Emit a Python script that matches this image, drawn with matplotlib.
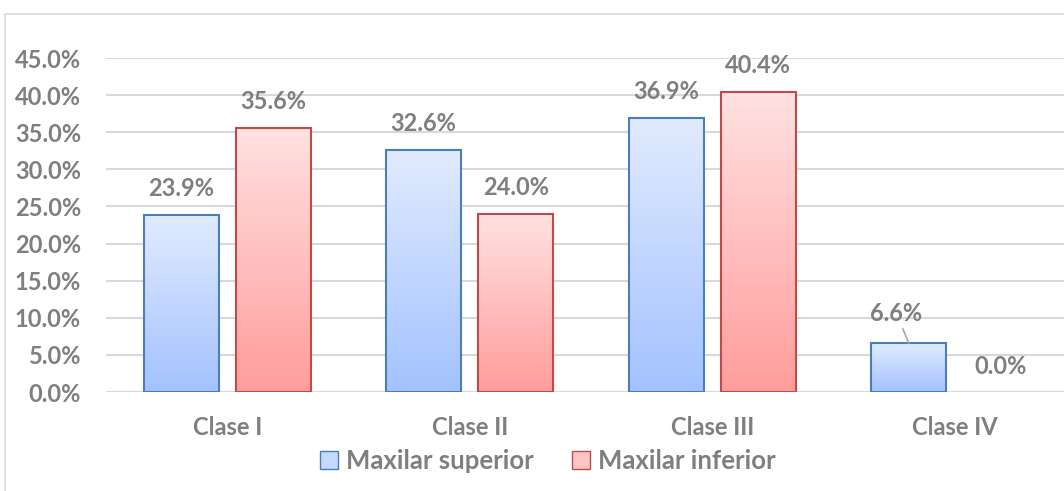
import numpy as np
import matplotlib
matplotlib.use("Agg")
import matplotlib.pyplot as plt
from matplotlib.patches import Patch, Rectangle
from matplotlib.colors import LinearSegmentedColormap
from matplotlib.ticker import FuncFormatter

categories = ["Clase I", "Clase II", "Clase III", "Clase IV"]
superior = [23.9, 32.6, 36.9, 6.6]
inferior = [35.6, 24.0, 40.4, 0.0]
series_names = ["Maxilar superior", "Maxilar inferior"]

plt.rcParams['font.family'] = ['Lato', 'DejaVu Sans']
grey = "#7f7f7f"
fs = 17

fig = plt.figure(figsize=(10.64, 4.91), dpi=100)
# chart border (cropped at right/bottom like the original)
fig.patches.append(Rectangle((4.5 / 1064, -0.1), 1.2, 1.1 - 13.5 / 491, transform=fig.transFigure,
                             fill=False, edgecolor="#d9d9d9", linewidth=1.2))

ax = fig.add_axes([106 / 1064, 1 - 392 / 491, 970 / 1064, (392 - 58) / 491])

blue_cmap = LinearSegmentedColormap.from_list("b", ["#a3c2fe", "#e1ebff"])
red_cmap = LinearSegmentedColormap.from_list("r", ["#ff9d9c", "#ffe1e1"])
grad = np.linspace(0, 1, 256).reshape(-1, 1)

x = np.arange(len(categories))
w = 0.31
off = 0.19

def draw_bars(xs, vals, cmap, edge):
    for xi, v in zip(xs, vals):
        if v <= 0:
            continue
        ax.imshow(grad, extent=(xi - w / 2, xi + w / 2, 0, v), origin="lower",
                  cmap=cmap, aspect="auto", zorder=2)
        ax.add_patch(Rectangle((xi - w / 2, 0), w, v, fill=False, edgecolor=edge,
                               linewidth=1.5, zorder=3))

draw_bars(x - off, superior, blue_cmap, "#4a7ebb")
draw_bars(x + off, inferior, red_cmap, "#be4b48")

lab_kw = dict(ha="center", va="center", fontsize=fs, fontweight="bold", color=grey)
for xi, v in zip(x - off, superior):
    if v < 10:
        # small bar: label lifted up with a leader line
        ax.annotate(f"{v:.1f}%", xy=(xi, v), xytext=(xi - 0.05, v + 4.0),
                    arrowprops=dict(arrowstyle="-", color="#a6a6a6", lw=1.2,
                                    shrinkA=1, shrinkB=0), **lab_kw)
    else:
        ax.annotate(f"{v:.1f}%", xy=(xi, v), xytext=(0, 19), textcoords="offset points", **lab_kw)
for xi, v in zip(x + off, inferior):
    if v == 0:
        ax.text(xi, 3.5, f"{v:.1f}%", **lab_kw)
    else:
        ax.annotate(f"{v:.1f}%", xy=(xi, v), xytext=(0, 19), textcoords="offset points", **lab_kw)

ax.set_xlim(-0.5, len(categories) - 0.5)
ax.set_ylim(0, 45)
ax.set_yticks(np.arange(0, 46, 5))
ax.yaxis.set_major_formatter(FuncFormatter(lambda v, p: f"{v:.1f}%"))
ax.set_xticks(x)
ax.set_xticklabels(categories)
ax.tick_params(length=0, labelsize=fs, labelcolor=grey)
ax.tick_params(axis="y", pad=18)
ax.tick_params(axis="x", pad=17)
for lab in ax.get_xticklabels() + ax.get_yticklabels():
    lab.set_fontweight("bold")
ax.grid(axis="y", color="#d9d9d9", linewidth=1.5, zorder=0)
ax.set_axisbelow(True)
for s in ax.spines.values():
    s.set_visible(False)

handles = [Patch(facecolor="#c5d9ff", edgecolor="#4a7ebb", label=series_names[0]),
           Patch(facecolor="#ffc4c4", edgecolor="#be4b48", label=series_names[1])]
leg = fig.legend(handles=handles, loc="center", bbox_to_anchor=(548 / 1064, 1 - 461 / 491),
                 ncol=2, frameon=False, handlelength=0.7, handleheight=0.7,
                 handletextpad=0.3, columnspacing=1.5,
                 prop=dict(size=18.5, weight="bold"))
for t in leg.get_texts():
    t.set_color(grey)

plt.savefig("out.png", dpi=100)
